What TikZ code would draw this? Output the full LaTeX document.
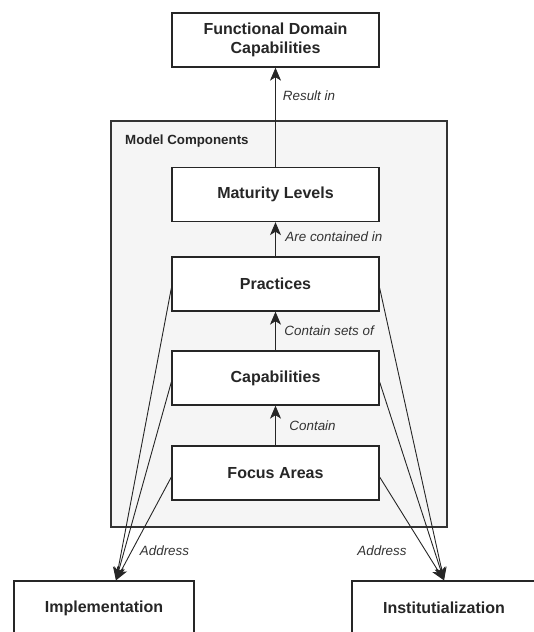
\documentclass[tikz,border=0pt]{standalone}
\usepackage{fontspec}
\setmainfont{Liberation Sans}
\usetikzlibrary{arrows.meta,positioning}

\tikzset{
  box/.style={draw=black!85, line width=1.3pt, fill=white, text=black!85,
    minimum width=207pt, minimum height=54pt, align=center,
    font=\fontsize{16}{18.5}\selectfont\bfseries},
  link/.style={draw=black!85, line width=0.9pt,
    -{Stealth[length=13pt,width=11pt,inset=3.5pt]}},
  tag/.style={font=\fontsize{13.4}{16}\selectfont\itshape, text=black!80, inner sep=1pt},
}

\begin{document}
\begin{tikzpicture}[x=1pt,y=-1pt]
  \useasboundingbox (0,0) rectangle (534,632);
  % model components frame
  \draw[draw=black!80, line width=1.3pt, fill=black!4] (111,121) rectangle (447,527);
  \node[anchor=west, inner sep=0pt, text=black!85, font=\fontsize{13.3}{16}\selectfont\bfseries] (mc) at (125,141) {Model Components};

  \node[box] (fdc) at (275.5,40) {Functional Domain\\Capabilities};
  \node[box] (ml) at (275.5,194.5) {Maturity Levels};
  \node[box] (pr) at (275.5,284) {Practices};
  \node[box] (cap) at (275.5,378) {Capabilities};
  \node[box] (fa) at (275.5,473) {Focus Areas};
  \node[box, minimum width=180pt] (impl) at (104,608) {Implementation};
  \node[box, minimum width=184pt] (inst) at (444,608) {Institutialization};

  % chain
  \draw[link] (ml) -- (fdc) node[tag, pos=.72, right=6pt] {Result in};
  \draw[link] (pr) -- (ml) node[tag, pos=.56, right=8.5pt] {Are contained in};
  \draw[link] (cap) -- (pr) node[tag, pos=.52, right=7.5pt] {Contain sets of};
  \draw[link] (fa) -- (cap) node[tag, pos=.5, right=12.5pt] {Contain};

  % address
  \foreach \n in {pr,cap,fa} {
    \draw[link] ([yshift=-4pt]\n.west) -- ([xshift=12pt]impl.north);
    \draw[link] ([yshift=-4pt]\n.east) -- (inst.north);
  }
  \node[tag] (addl) at (164.5,550.5) {Address};
  \node[tag] (addr) at (382,550.5) {Address};
\end{tikzpicture}
\end{document}
